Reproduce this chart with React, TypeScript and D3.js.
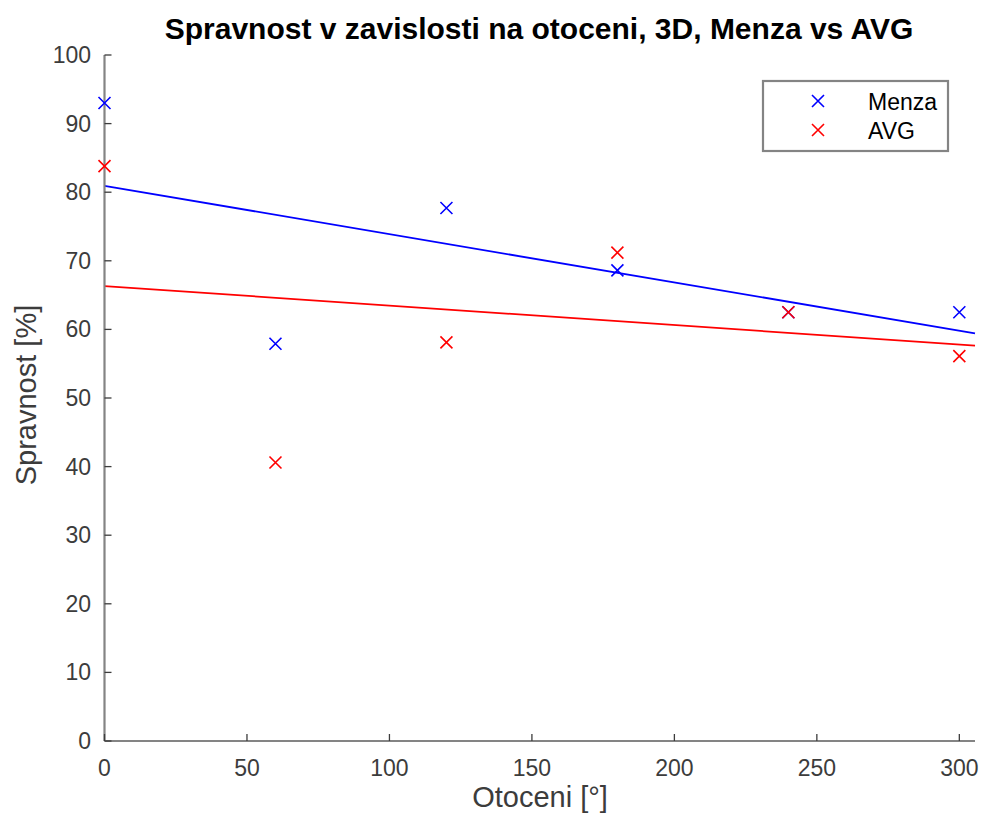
import React from "react";
import * as d3 from "d3";

const angles = [0, 60, 120, 180, 240, 300];
const menza = [93.0, 57.9, 77.7, 68.6, 62.5, 62.5];
const avg = [83.8, 40.6, 58.1, 71.2, 62.5, 56.1];
const xTicks = [0, 50, 100, 150, 200, 250, 300];
const yTicks = [0, 10, 20, 30, 40, 50, 60, 70, 80, 90, 100];
const seriesNames = ["Menza", "AVG"];
const seriesColors = ["#0000ff", "#ff0000"];

const W = 986;
const H = 819;
const FONT = "'Liberation Sans', Arial, Helvetica, sans-serif";

function fit(xs: number[], ys: number[]) {
  const mx = d3.mean(xs)!;
  const my = d3.mean(ys)!;
  let sxy = 0, sxx = 0;
  xs.forEach((x, i) => { sxy += (x - mx) * (ys[i] - my); sxx += (x - mx) * (x - mx); });
  const b = sxy / sxx;
  return { a: my - b * mx, b };
}

export default function App() {
  const x = d3.scaleLinear().domain([0, 305.5]).range([104.5, 975]);
  const y = d3.scaleLinear().domain([0, 100]).range([741, 55]);
  const data = [menza, avg];
  const axisColor = "#848484";
  const textColor = "#3c3c3c";
  const cross = (cx: number, cy: number, c: string, k: string) => (
    <path key={k} d={`M${cx - 6},${cy - 6}L${cx + 6},${cy + 6}M${cx - 6},${cy + 6}L${cx + 6},${cy - 6}`} stroke={c} strokeWidth={1.6} fill="none" />
  );
  const line = d3.line<number[]>().x((d) => x(d[0])).y((d) => y(d[1]));
  return (
    <svg width={W} height={H} style={{ position: "absolute", left: 0, top: 0, background: "#fff" }} fontFamily={FONT}>
      <rect x={0} y={0} width={W} height={H} fill="#fff" />
      {data.map((ys, si) => {
        const f = fit(angles, ys);
        const [x0, x1] = x.domain();
        const pts = [[x0, f.a + f.b * x0], [x1, f.a + f.b * x1]];
        return <path key={"l" + si} d={line(pts) || ""} stroke={seriesColors[si]} strokeWidth={1.8} fill="none" />;
      })}
      <line x1={x(0)} x2={x(305.5)} y1={y(0)} y2={y(0)} stroke={axisColor} strokeWidth={2.2} />
      <line x1={x(0)} x2={x(0)} y1={y(0)} y2={y(100)} stroke={axisColor} strokeWidth={2.2} />
      {xTicks.map((t) => (
        <g key={"xt" + t}>
          <line x1={x(t)} x2={x(t)} y1={y(0)} y2={y(0) - 7} stroke={textColor} strokeWidth={1.3} />
          <text x={x(t)} y={776} textAnchor="middle" fontSize={23} fill={textColor}>{t}</text>
        </g>
      ))}
      {yTicks.map((t) => (
        <g key={"yt" + t}>
          <line x1={x(0)} x2={x(0) + 7} y1={y(t)} y2={y(t)} stroke={textColor} strokeWidth={1.3} />
          <text x={91} y={y(t) + 8} textAnchor="end" fontSize={23} fill={textColor}>{t}</text>
        </g>
      ))}
      {data.map((ys, si) => angles.map((a, i) => cross(x(a), y(ys[i]), seriesColors[si], `m${si}-${i}`)))}
      <text x={539} y={39} textAnchor="middle" fontSize={30} fontWeight="bold" fill="#000">Spravnost v zavislosti na otoceni, 3D, Menza vs AVG</text>
      <text x={540} y={807} textAnchor="middle" fontSize={29} fill={textColor}>Otoceni [°]</text>
      <text transform={`translate(36,395) rotate(-90)`} textAnchor="middle" fontSize={29} fill={textColor}>Spravnost [%]</text>
      <rect x={763} y={81} width={185} height={70} fill="#fff" stroke={axisColor} strokeWidth={2.2} />
      {seriesNames.map((n, i) => (
        <g key={"lg" + i}>
          {cross(818, 101 + i * 29, seriesColors[i], "lgm" + i)}
          <text x={868} y={109.5 + i * 29} fontSize={23} fill="#000">{n}</text>
        </g>
      ))}
    </svg>
  );
}
